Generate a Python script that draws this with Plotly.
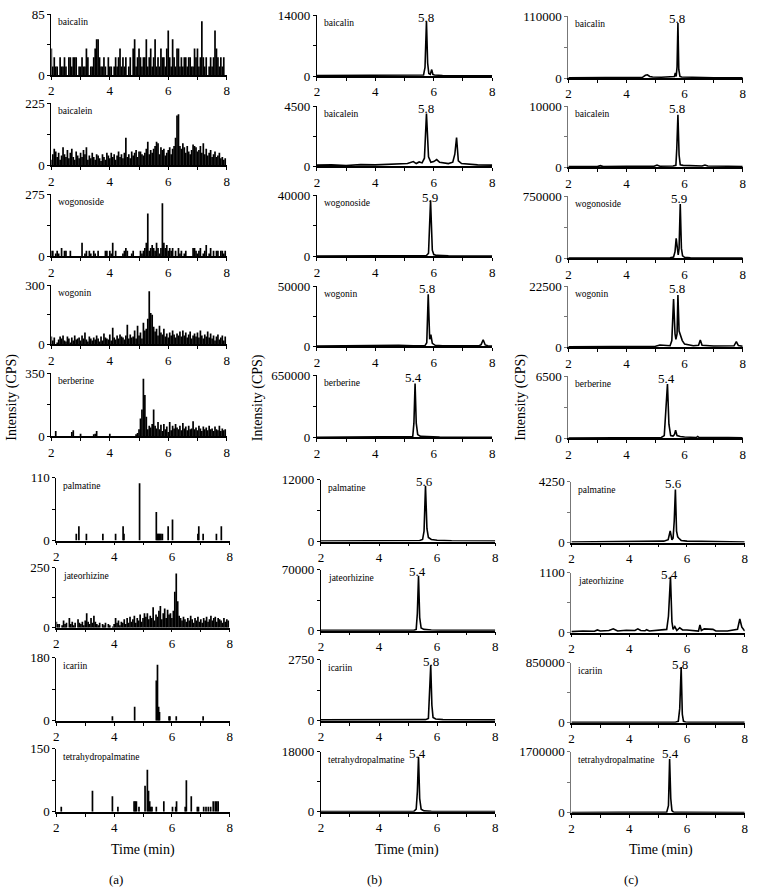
import plotly.graph_objects as go

# ---------------- DATA ----------------
# regular sampling grid for the noisy (a) traces, minutes
T_GRID = [2.00,2.05,2.10,2.15,2.20,2.25,2.30,2.35,2.40,2.45,
          2.50,2.55,2.60,2.65,2.70,2.75,2.80,2.85,2.90,2.95,
          3.00,3.05,3.10,3.15,3.20,3.25,3.30,3.35,3.40,3.45,
          3.50,3.55,3.60,3.65,3.70,3.75,3.80,3.85,3.90,3.95,
          4.00,4.05,4.10,4.15,4.20,4.25,4.30,4.35,4.40,4.45,
          4.50,4.55,4.60,4.65,4.70,4.75,4.80,4.85,4.90,4.95,
          5.00,5.05,5.10,5.15,5.20,5.25,5.30,5.35,5.40,5.45,
          5.50,5.55,5.60,5.65,5.70,5.75,5.80,5.85,5.90,5.95,
          6.00,6.05,6.10,6.15,6.20,6.25,6.30,6.35,6.40,6.45,
          6.50,6.55,6.60,6.65,6.70,6.75,6.80,6.85,6.90,6.95,
          7.00,7.05,7.10,7.15,7.20,7.25,7.30,7.35,7.40,7.45,
          7.50,7.55,7.60,7.65,7.70,7.75,7.80,7.85,7.90,7.95]

# ---- column (a) ----
A_BAICALIN = [37,12,25,12,12,0,25,12,12,25, 12,0,25,25,12,25,25,25,0,12,
              12,25,12,12,37,25,0,12,12,25, 37,50,50,25,12,12,25,12,0,25,
              12,12,0,12,25,12,25,37,12,25, 12,25,0,12,25,0,37,50,12,25,
              37,25,12,25,25,50,12,25,37,12, 25,50,12,25,12,37,25,25,12,37,
              62,25,12,50,25,12,37,37,12,25, 12,25,25,12,25,25,12,12,37,25,
              37,12,25,75,25,12,25,0,12,25, 12,25,62,37,25,12,25,12,25,0]
A_BAICALEIN = [20,40,60,50,30,45,20,35,65,40, 30,55,25,45,60,30,20,50,35,25,
               45,30,55,40,65,20,35,25,45,30, 20,40,35,25,15,40,30,20,45,35,
               25,45,30,40,20,35,50,30,40,25, 45,100,30,40,25,50,35,45,55,30,
               50,50,40,35,45,60,85,40,55,45, 60,70,85,80,40,65,55,60,35,45,
               55,65,40,60,70,100,180,185,70,60, 80,65,45,70,50,40,55,75,70,65,
               50,55,70,45,80,40,60,35,45,55, 30,40,50,30,35,45,25,30,20,25]
A_WOGONOSIDE = [25,25,0,12,25,12,0,37,0,25, 25,0,0,25,0,0,0,0,0,0,
                0,60,0,12,25,0,25,12,0,25, 12,0,25,0,0,0,0,25,25,0,
                25,12,60,0,25,0,0,0,0,12, 25,37,25,0,0,12,25,0,0,0,
                0,25,12,25,37,60,190,25,37,50, 37,25,60,37,12,37,235,60,37,50,
                25,37,25,37,0,25,0,37,12,25, 0,12,25,0,0,0,0,37,37,25,
                12,25,37,0,12,25,50,0,12,37, 0,25,0,25,25,0,25,25,12,25]
A_WOGONIN = [40,20,35,0,10,25,40,30,45,20, 15,40,30,10,35,20,45,25,30,35,
             20,45,30,60,25,15,40,30,20,35, 25,45,30,15,40,20,55,35,30,25,
             50,20,85,35,25,45,30,50,40,35, 25,45,100,30,50,35,40,70,30,95,
             45,60,30,110,70,80,130,270,160,150, 90,65,80,45,95,60,50,80,40,55,
             35,60,45,70,50,35,55,45,65,40, 70,45,60,35,50,65,30,45,55,40,
             60,35,70,45,30,50,40,65,35,55, 30,45,20,40,50,25,35,45,20,40]
A_BERBERINE = [0,0,0,30,0,0,0,0,0,0, 0,0,0,0,25,35,0,0,0,0,
               15,0,0,0,0,0,0,0,0,12, 15,30,0,0,0,0,0,0,0,0,
               15,0,0,0,0,0,0,0,0,0, 0,0,0,0,0,0,0,0,12,20,
               40,100,150,320,230,110,40,60,50,70, 150,60,45,80,40,65,30,70,40,55,
               25,80,35,60,45,70,50,40,60,35, 75,45,55,35,60,40,45,85,40,50,
               35,60,45,30,55,40,50,35,60,40, 45,30,55,40,35,60,30,45,35,40]
A_JATEORHIZINE = [25,15,15,0,10,30,15,20,0,40, 15,25,10,20,0,35,20,15,25,10,
                  30,60,25,15,40,20,50,25,15,10, 20,0,15,10,20,0,15,10,0,5,
                  15,40,20,30,10,25,20,35,15,40, 20,45,25,35,50,20,40,30,55,25,
                  40,60,45,60,35,50,40,85,30,55, 45,70,90,35,60,80,40,75,55,60,
                  40,70,150,225,110,50,40,30,45,35, 25,40,30,50,35,20,40,30,45,25,
                  35,20,40,30,45,25,35,50,30,40, 45,25,40,35,30,20,40,25,35,30]
A_PALMATINE_T = [2.69,2.78,3.04,3.61,4.05,4.31,4.34,4.88,5.46,5.49,5.52,5.55,5.58,
                 5.62,5.67,5.87,6.02,6.90,6.93,7.08,7.54,7.71]
A_PALMATINE = [12,25,12,12,12,25,12,100,50,12,12,12,12,12,12,25,37,12,25,12,12,25]
A_ICARIIN_T = [3.94,4.71,5.46,5.50,5.54,5.57,5.90,5.93,6.15,7.08]
A_ICARIIN = [13,40,115,160,40,25,13,13,13,13]
A_THP_T = [2.17,3.25,3.94,4.13,4.69,4.73,4.77,4.86,5.07,5.15,5.19,5.23,5.27,5.31,
           5.46,5.72,6.02,6.13,6.16,6.46,6.50,6.67,6.88,6.92,7.10,7.18,7.26,7.34,
           7.43,7.50,7.55,7.60]
A_THP = [12,50,37,12,25,25,25,12,62,100,50,25,12,12,12,25,12,12,25,12,75,37,12,12,
         12,12,12,12,25,25,25,25]

# ---- column (b) ----
B_BAICALIN_T = [2,5.0,5.65,5.70,5.75,5.79,5.83,5.88,5.93,5.97,6.02,6.3,8]
B_BAICALIN = [150,200,250,2000,12600,3000,600,400,1500,400,250,150,100]
B_BAICALEIN_T = [2,2.5,3,3.5,4,4.5,4.9,5.1,5.3,5.4,5.5,5.6,5.68,5.75,5.82,5.9,6.0,6.1,
                 6.2,6.35,6.5,6.65,6.72,6.78,6.84,6.95,7.2,7.5,8]
B_BAICALEIN = [80,100,60,120,100,150,150,200,350,200,320,250,600,3950,700,300,350,500,
               300,250,200,300,900,2150,400,200,150,100,80]
B_WOGONOSIDE_T = [2,3.5,3.8,4.1,5.0,5.75,5.82,5.89,5.95,6.0,6.1,6.5,8]
B_WOGONOSIDE = [200,400,700,300,300,500,2000,36700,4000,1200,600,300,200]
B_WOGONIN_T = [2,3.8,4.3,4.8,5.3,5.7,5.76,5.81,5.86,5.9,5.95,6.05,6.3,7.0,7.55,7.62,
               7.69,7.76,7.85,8]
B_WOGONIN = [300,600,1200,900,600,700,3000,43300,6000,9700,2500,900,500,400,500,1500,
             5500,1200,500,400]
B_BERBERINE_T = [2,4.5,5.2,5.28,5.32,5.36,5.40,5.45,5.55,5.8,6.2,8]
B_BERBERINE = [3000,3000,3500,10000,150000,566000,150000,30000,12000,6000,4000,3000]
B_PALMATINE_T = [2,4.5,5.4,5.5,5.55,5.6,5.65,5.7,5.8,6.0,6.5,8]
B_PALMATINE = [100,150,200,400,2000,10800,2500,800,400,250,150,100]
B_JATEORHIZINE_T = [2,4.5,5.2,5.28,5.32,5.36,5.40,5.45,5.55,5.8,6.2,8]
B_JATEORHIZINE = [300,300,400,1500,20000,63000,15000,3000,1500,800,500,300]
B_ICARIIN_T = [2,5.0,5.6,5.7,5.74,5.78,5.82,5.86,5.95,6.2,8]
B_ICARIIN = [40,40,50,100,1200,2500,700,150,80,50,40]
B_THP_T = [2,5.2,5.28,5.32,5.36,5.40,5.45,5.55,5.8,8]
B_THP = [100,150,800,6000,16500,4000,800,300,150,100]

# ---- column (c) ----
C_BAICALIN_T = [2,4.0,4.55,4.65,4.72,4.8,4.9,5.2,5.5,5.65,5.68,5.71,5.74,5.77,5.80,
                5.84,5.9,6.2,7,8]
C_BAICALIN = [500,800,1500,5000,6000,3000,2000,1500,2000,3000,9000,3000,20000,97600,
              15000,3000,2000,1500,800,500]
C_BAICALEIN_T = [2,3.0,3.1,3.2,4.0,4.95,5.05,5.15,5.6,5.7,5.73,5.77,5.81,5.85,5.95,
                 6.2,6.6,6.7,6.8,7.5,8]
C_BAICALEIN = [100,100,250,100,150,150,350,150,200,300,3000,8600,2000,400,300,250,
               200,350,200,150,100]
C_WOGONOSIDE_T = [2,5.0,5.5,5.62,5.67,5.71,5.75,5.78,5.81,5.85,5.89,5.93,6.0,6.2,8]
C_WOGONOSIDE = [3000,4000,6000,15000,80000,242000,60000,40000,120000,657000,120000,
                30000,12000,6000,3000]
C_WOGONIN_T = [2,4.5,5.0,5.15,5.25,5.4,5.5,5.56,5.62,5.67,5.70,5.74,5.77,5.81,5.86,
               5.92,6.0,6.3,6.48,6.54,6.60,7.0,7.7,7.78,7.85,8]
C_WOGONIN = [200,300,400,900,800,500,600,2500,17800,5000,3000,5000,19300,6000,4500,
             2500,1200,600,800,2700,800,500,600,2100,700,400]
C_BERBERINE_T = [2,4.5,5.2,5.3,5.35,5.41,5.46,5.52,5.6,5.65,5.69,5.74,5.85,6.0,6.4,
                 6.45,6.5,7.0,7.5,8]
C_BERBERINE = [50,80,100,300,2500,5700,1500,300,250,400,870,300,200,150,100,220,100,
               120,100,60]
C_PALMATINE_T = [2,4.5,5.2,5.35,5.42,5.48,5.52,5.56,5.60,5.64,5.68,5.72,5.8,6.0,7,8]
C_PALMATINE = [40,60,100,200,810,200,300,1500,3700,800,400,300,150,100,60,40]
C_JATEORHIZINE_T = [2,2.4,2.8,2.9,3.0,3.3,3.45,3.5,3.6,3.9,4.2,4.3,4.4,4.55,4.6,4.7,
                    5.0,5.3,5.36,5.43,5.48,5.52,5.58,5.65,5.75,5.85,6.0,6.2,6.4,6.45,
                    6.5,6.6,6.9,7.0,7.4,7.75,7.83,7.9,7.95,8]
C_JATEORHIZINE = [20,30,25,50,30,40,70,60,30,45,40,70,40,35,55,30,40,60,300,1025,200,
                  60,110,40,90,50,50,40,30,140,40,70,60,30,30,60,250,100,60,30]
C_ICARIIN_T = [2,5.0,5.6,5.7,5.75,5.80,5.84,5.88,5.95,6.2,8]
C_ICARIIN = [5000,5000,8000,20000,200000,788000,120000,20000,10000,6000,5000]
C_THP_T = [2,5.2,5.3,5.36,5.40,5.44,5.48,5.53,5.6,5.8,8]
C_THP = [10000,10000,20000,200000,1500000,400000,60000,25000,15000,12000,10000]

COMPOUNDS = ["baicalin", "baicalein", "wogonoside", "wogonin", "berberine",
             "palmatine", "jateorhizine", "icariin", "tetrahydropalmatine"]
YMAX_A = [85, 225, 275, 300, 350, 110, 250, 180, 150]
YMAX_B = [14000, 4500, 40000, 50000, 650000, 12000, 70000, 2750, 18000]
YMAX_C = [110000, 10000, 750000, 22500, 6500, 4250, 1100, 850000, 1700000]
PEAK_LABEL_B = ["5.8", "5.8", "5.9", "5.8", "5.4", "5.6", "5.4", "5.8", "5.4"]
PEAK_LABEL_C = ["5.8", "5.8", "5.9", "5.8", "5.4", "5.6", "5.4", "5.8", "5.4"]
PEAK_POS_B = [5.73, 5.73, 5.86, 5.78, 5.30, 5.55, 5.31, 5.80, 5.32]
PEAK_POS_C = [5.75, 5.75, 5.82, 5.73, 5.36, 5.53, 5.41, 5.77, 5.44]
X_TICKS = [2, 3, 4, 5, 6, 7, 8]
X_TICKTEXT = ["2", "", "4", "", "6", "", "8"]

SERIES_A = [(T_GRID, A_BAICALIN), (T_GRID, A_BAICALEIN), (T_GRID, A_WOGONOSIDE),
            (T_GRID, A_WOGONIN), (T_GRID, A_BERBERINE), (A_PALMATINE_T, A_PALMATINE),
            (T_GRID, A_JATEORHIZINE), (A_ICARIIN_T, A_ICARIIN), (A_THP_T, A_THP)]
SERIES_B = [(B_BAICALIN_T, B_BAICALIN), (B_BAICALEIN_T, B_BAICALEIN),
            (B_WOGONOSIDE_T, B_WOGONOSIDE), (B_WOGONIN_T, B_WOGONIN),
            (B_BERBERINE_T, B_BERBERINE), (B_PALMATINE_T, B_PALMATINE),
            (B_JATEORHIZINE_T, B_JATEORHIZINE), (B_ICARIIN_T, B_ICARIIN),
            (B_THP_T, B_THP)]
SERIES_C = [(C_BAICALIN_T, C_BAICALIN), (C_BAICALEIN_T, C_BAICALEIN),
            (C_WOGONOSIDE_T, C_WOGONOSIDE), (C_WOGONIN_T, C_WOGONIN),
            (C_BERBERINE_T, C_BERBERINE), (C_PALMATINE_T, C_PALMATINE),
            (C_JATEORHIZINE_T, C_JATEORHIZINE), (C_ICARIIN_T, C_ICARIIN),
            (C_THP_T, C_THP)]

# ---------------- LAYOUT (pixels) ----------------
W, H = 757, 896
FONT = "Liberation Serif"
# (left, right) of each column for rows 1-5 and rows 6-9
COL_X = {"a": [(52, 227), (57, 230)],
         "b": [(317, 492), (321, 495)],
         "c": [(568, 742), (571, 744)]}
# (top, zero-line) of each row
ROW_Y = {"a": [(15, 76), (104, 166), (195, 257), (286, 345), (374, 437),
               (478, 541), (568, 628), (658, 721), (749, 812)],
         "b": [(16, 77), (107, 167), (196, 257), (287, 347), (376, 438),
               (480, 542), (570, 631), (660, 721), (752, 812)],
         "c": [(17, 79), (107, 168), (197, 259), (287, 348), (377, 439),
               (482, 543), (573, 633), (663, 723), (752, 813)]}


# small spread about the page centre so the captured page lines up with the target
def fx(px):
    return (378.5 + (px - 378.5) * 1.01) / W


def fy(py):
    return 1 - (448 + (py - 448) * 1.018) / H


fig = go.Figure()
annotations = []
layout = {}
n = 0
for col, series, ymaxs in (("a", SERIES_A, YMAX_A), ("b", SERIES_B, YMAX_B),
                           ("c", SERIES_C, YMAX_C)):
    for r in range(9):
        n += 1
        xs = "" if n == 1 else str(n)
        xref, yref = "x" + xs, "y" + xs
        x0, x1 = COL_X[col][0 if r < 5 else 1]
        top, zero = ROW_Y[col][r]
        ymax = ymaxs[r]
        t, v = series[r]
        if col == "a":
            px, py = [], []
            for ti, vi in zip(t, v):
                if vi > 0:
                    px += [ti, ti, None]
                    py += [0, vi, None]
            fig.add_trace(go.Scatter(x=px, y=py, mode="lines", xaxis=xref, yaxis=yref,
                                     line=dict(color="black", width=1.7),
                                     connectgaps=False, hoverinfo="skip"))
        else:
            fig.add_trace(go.Scatter(x=t, y=v, mode="lines", xaxis=xref, yaxis=yref,
                                     line=dict(color="black", width=1.6),
                                     hoverinfo="skip"))
            lab = (PEAK_LABEL_B if col == "b" else PEAK_LABEL_C)[r]
            pos = (PEAK_POS_B if col == "b" else PEAK_POS_C)[r]
            annotations.append(dict(x=pos, y=ymax, xref=xref, yref=yref, text=lab,
                                    showarrow=False, xanchor="center", yanchor="middle",
                                    yshift=-2,
                                    font=dict(family=FONT, size=13, color="black")))
        layout["xaxis" + xs] = dict(
            domain=[fx(x0), fx(x1)], anchor=yref, range=[2, 8],
            tickvals=X_TICKS, ticktext=X_TICKTEXT, ticks="outside", ticklen=3,
            tickwidth=1, tickcolor="black", showline=True, linecolor="black",
            linewidth=1.5, showgrid=False, zeroline=False, fixedrange=True,
            tickfont=dict(family=FONT, size=13, color="black"))
        layout["yaxis" + xs] = dict(
            domain=[fy(zero), fy(top)], anchor=xref, range=[0, ymax],
            tickvals=[0, ymax / 2, ymax], ticktext=["0", "", str(ymax)],
            ticks="outside", ticklen=3, tickwidth=1,
            tickcolor="black" if col != "c" else "#777777",
            showline=True, linecolor="black" if col != "c" else "#777777",
            linewidth=1, showgrid=False, zeroline=False, fixedrange=True,
            tickfont=dict(family=FONT, size=13, color="black"))
        annotations.append(dict(x=0, y=1, xref=xref + " domain", yref=yref + " domain",
                                text=COMPOUNDS[r], showarrow=False, xanchor="left",
                                yanchor="middle", xshift=5, yshift=-8,
                                font=dict(family=FONT, size=9.5, color="black")))

# column titles / axis labels
for xc in (13, 259, 521):
    annotations.append(dict(x=fx(xc), y=fy(398), xref="paper", yref="paper",
                            text="Intensity (CPS)", textangle=-90, showarrow=False,
                            xanchor="center", yanchor="middle",
                            font=dict(family=FONT, size=14, color="black")))
for xc in (143, 407, 660):
    annotations.append(dict(x=fx(xc), y=fy(850), xref="paper", yref="paper",
                            text="Time (min)", showarrow=False,
                            xanchor="center", yanchor="middle",
                            font=dict(family=FONT, size=14, color="black")))
for xc, lab in ((117, "(a)"), (375, "(b)"), (630, "(c)")):
    annotations.append(dict(x=fx(xc), y=fy(880), xref="paper", yref="paper",
                            text=lab, showarrow=False,
                            xanchor="center", yanchor="middle",
                            font=dict(family=FONT, size=13, color="black")))

fig.update_layout(width=W, height=H, margin=dict(l=0, r=0, t=0, b=0, pad=0),
                  paper_bgcolor="white", plot_bgcolor="rgba(0,0,0,0)",
                  showlegend=False, annotations=annotations, **layout)
fig.write_html("out.html",
               config={"displayModeBar": False, "responsive": False},
               post_script="document.documentElement.style.overflow='hidden';"
                           "document.body.style.margin='0px';"
                           "document.body.style.overflow='hidden';")
